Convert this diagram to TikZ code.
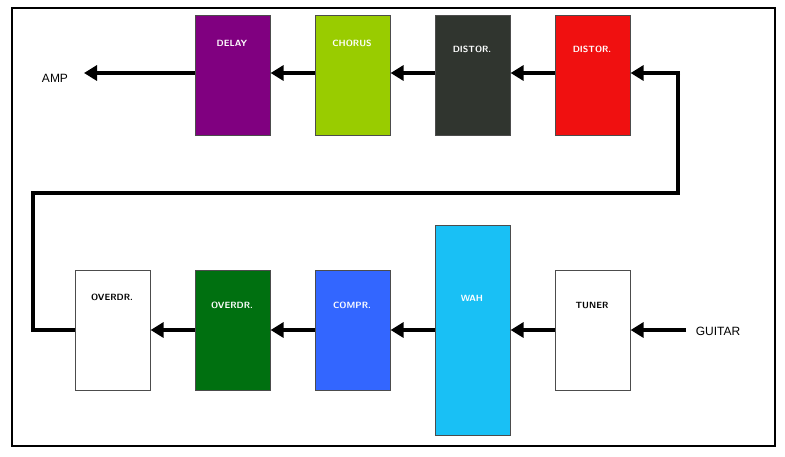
\documentclass[tikz,border=0pt]{standalone}
\usepackage{fontspec}
\setmainfont{Liberation Sans}
\usetikzlibrary{arrows.meta}
\definecolor{cdelay}{HTML}{800080}
\definecolor{cchorus}{HTML}{99CC00}
\definecolor{cdist}{HTML}{30352F}
\definecolor{cred}{HTML}{F01010}
\definecolor{cgreen}{HTML}{007010}
\definecolor{ccomp}{HTML}{3366FF}
\definecolor{cwah}{HTML}{19C0F5}
\begin{document}
\begin{tikzpicture}[x=1pt,y=-1pt,
  pedal/.style={draw=black!70,line width=0.6pt,minimum width=75pt,minimum height=120pt,anchor=north west},
  lbl/.style={font=\sffamily\bfseries\fontsize{9}{10}\selectfont},
  sig/.style={line width=4pt,-{Triangle[length=13pt,width=15pt]}},
  wire/.style={line width=4pt}]
\useasboundingbox (0,0) rectangle (785,456);
\draw[line width=1.2pt] (12,8) rectangle (775,446);
% top row
\node[pedal,fill=cdelay] (delay) at (195,15) {};
\node[pedal,fill=cchorus] (chorus) at (315,15) {};
\node[pedal,fill=cdist] (dist1) at (435,15) {};
\node[pedal,fill=cred] (dist2) at (555,15) {};
\node[lbl,text=white] at (232,43) {DELAY};
\node[lbl,text=white] at (352,43) {CHORUS};
\node[lbl,text=white] at (472,49) {DISTOR.};
\node[lbl,text=white] at (592,49) {DISTOR.};
% bottom row
\node[pedal,fill=white] (od1) at (75,270) {};
\node[pedal,fill=cgreen] (od2) at (195,270) {};
\node[pedal,fill=ccomp] (comp) at (315,270) {};
\node[pedal,fill=cwah,minimum height=210pt] (wah) at (435,225) {};
\node[pedal,fill=white] (tuner) at (555,270) {};
\node[lbl,text=black] at (112,297) {OVERDR.};
\node[lbl,text=white] at (232,305) {OVERDR.};
\node[lbl,text=white] at (352,305) {COMPR.};
\node[lbl,text=white] at (472,298) {WAH};
\node[lbl,text=black] at (592,305) {TUNER};
\node[font=\fontsize{12}{14}\selectfont] (amp) at (55,78) {AMP};
\node[font=\fontsize{12}{14}\selectfont] (guitar) at (718,331) {GUITAR};
\coordinate (ampe) at (84,73);
\coordinate (gs) at (686,330);
\coordinate (c1) at (678,73);
% arrows
\draw[sig] (gs) -- (tuner.east |- gs);
\draw[sig] (tuner.west |- gs) -- (wah.east |- gs);
\draw[sig] (wah.west |- gs) -- (comp.east |- gs);
\draw[sig] (comp.west |- gs) -- (od2.east |- gs);
\draw[sig] (od2.west |- gs) -- (od1.east |- gs);
\draw[wire] (od1.west |- gs) -- (33,330) -- (33,193) -- (678,193) -- (678,73);
\draw[sig] (680,73) -- (dist2.east |- c1);
\draw[sig] (dist2.west |- c1) -- (dist1.east |- c1);
\draw[sig] (dist1.west |- c1) -- (chorus.east |- c1);
\draw[sig] (chorus.west |- c1) -- (delay.east |- c1);
\draw[sig] (delay.west |- c1) -- (ampe);
\end{tikzpicture}
\end{document}
